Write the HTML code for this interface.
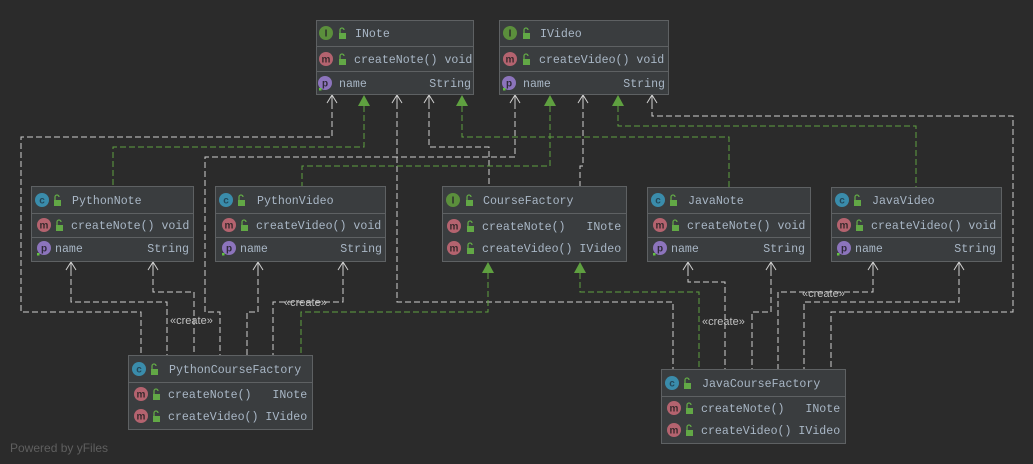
<!DOCTYPE html>
<html><head><meta charset="utf-8"><style>
html,body{margin:0;padding:0;background:#2b2b2b;}
svg{display:block;}
.t{font-family:"Liberation Mono",monospace;font-size:11.6px;fill:#a9b7c6;white-space:pre;}
.ic{font-family:"Liberation Sans",sans-serif;font-size:10px;font-weight:bold;text-anchor:middle;}
.lb{font-family:"Liberation Sans",sans-serif;font-size:11px;fill:#c0c0c0;}
.w{fill:none;stroke:#cfcfcf;stroke-width:1;stroke-dasharray:6,3;}
.g{fill:none;stroke:#5fa040;stroke-width:1;stroke-dasharray:6,3;}
</style></head><body>
<svg width="1033" height="464" viewBox="0 0 1033 464" xmlns="http://www.w3.org/2000/svg" xml:space="preserve">
<defs>
<path id="oa" d="M-5,8 L0,0 L5,8 M0,0 L0,8" fill="none" stroke="#cfcfcf" stroke-width="1"/>
<path id="ga" d="M-6,11 L0,0 L6,11 Z" fill="#5fa040"/>
<g id="lock"><rect x="-3" y="-1" width="7" height="6" fill="#62a846"/><path d="M-2,-1 V-4 A2,2 0 0 1 2,-4" fill="none" stroke="#62a846" stroke-width="1.3"/></g>
</defs>
<rect width="1033" height="464" fill="#2b2b2b"/>

<polyline class="w" points="332,103 332,137 21,137 21,312 141,312 141,355"/>
<polyline class="w" points="397,103 397,302 673,302 673,369"/>
<polyline class="w" points="429,103 429,147 489,147 489,186"/>
<polyline class="w" points="515,103 515,157 205,157 205,312 220,312 220,355"/>
<polyline class="w" points="583,103 583,166 580,166 580,186"/>
<polyline class="w" points="652,103 652,116 1013,116 1013,312 831,312 831,369"/>
<polyline class="w" points="71,270 71,302 167,302 167,355"/>
<polyline class="w" points="153,270 153,292 194,292 194,355"/>
<polyline class="w" points="258,270 258,312 247,312 247,355"/>
<polyline class="w" points="343,270 343,302 273,302 273,355"/>
<polyline class="w" points="688,270 688,282 725,282 725,369"/>
<polyline class="w" points="771,270 771,312 752,312 752,369"/>
<polyline class="w" points="873,270 873,292 778,292 778,369"/>
<polyline class="w" points="959,270 959,302 804,302 804,369"/>
<polyline class="g" points="364,106 364,147 113,147 113,186"/>
<polyline class="g" points="462,106 462,137 729,137 729,187"/>
<polyline class="g" points="550,106 550,166 302,166 302,186"/>
<polyline class="g" points="618,106 618,126 916,126 916,187"/>
<polyline class="g" points="488,273 488,312 301,312 301,355"/>
<polyline class="g" points="580,273 580,292 699,292 699,369"/>

<use href="#oa" x="332" y="95"/><use href="#oa" x="397" y="95"/><use href="#oa" x="429" y="95"/>
<use href="#oa" x="515" y="95"/><use href="#oa" x="583" y="95"/><use href="#oa" x="652" y="95"/>
<use href="#oa" x="71" y="262"/><use href="#oa" x="153" y="262"/><use href="#oa" x="258" y="262"/><use href="#oa" x="343" y="262"/>
<use href="#oa" x="688" y="262"/><use href="#oa" x="771" y="262"/><use href="#oa" x="873" y="262"/><use href="#oa" x="959" y="262"/>
<use href="#ga" x="364" y="95"/><use href="#ga" x="462" y="95"/><use href="#ga" x="550" y="95"/><use href="#ga" x="618" y="95"/>
<use href="#ga" x="488" y="262"/><use href="#ga" x="580" y="262"/>

<text class="lb" x="170" y="324">«create»</text>
<text class="lb" x="284" y="306">«create»</text>
<text class="lb" x="702" y="325">«create»</text>
<text class="lb" x="802" y="297">«create»</text>

<g>
<rect x="316.5" y="20.5" width="157" height="74" fill="#3a3d3f" stroke="#5e6163"/>
<line x1="317" y1="46.5" x2="473" y2="46.5" stroke="#5e6163"/><line x1="317" y1="71.5" x2="473" y2="71.5" stroke="#5e6163"/>
<circle cx="326" cy="33" r="7" fill="#5b8f3c"/><text class="ic" x="326" y="36.5" fill="#2b2b2b">I</text><use href="#lock" x="342" y="34"/>
<text class="t" x="355" y="37">INote</text>
<circle cx="326" cy="59" r="7" fill="#b4636f"/><text class="ic" x="326" y="62.5" fill="#3a2a2d">m</text><use href="#lock" x="342" y="60"/>
<text class="t" x="354" y="63">createNote() void</text>
<circle cx="325" cy="83" r="7" fill="#8c74bc"/><text class="ic" x="325" y="86.5" fill="#2f2a3a">p</text><rect x="319" y="88" width="2.5" height="2.5" fill="#62c040"/>
<text class="t" x="339" y="87">name</text><text class="t" x="471" y="87" text-anchor="end">String</text>
</g>
<g>
<rect x="499.5" y="20.5" width="169" height="74" fill="#3a3d3f" stroke="#5e6163"/>
<line x1="500" y1="46.5" x2="668" y2="46.5" stroke="#5e6163"/><line x1="500" y1="71.5" x2="668" y2="71.5" stroke="#5e6163"/>
<circle cx="510" cy="33" r="7" fill="#5b8f3c"/><text class="ic" x="510" y="36.5" fill="#2b2b2b">I</text><use href="#lock" x="526" y="34"/>
<text class="t" x="540" y="37">IVideo</text>
<circle cx="510" cy="59" r="7" fill="#b4636f"/><text class="ic" x="510" y="62.5" fill="#3a2a2d">m</text><use href="#lock" x="526" y="60"/>
<text class="t" x="539" y="63">createVideo() void</text>
<circle cx="509" cy="83" r="7" fill="#8c74bc"/><text class="ic" x="509" y="86.5" fill="#2f2a3a">p</text><rect x="503" y="88" width="2.5" height="2.5" fill="#62c040"/>
<text class="t" x="523" y="87">name</text><text class="t" x="665" y="87" text-anchor="end">String</text>
</g>

<g>
<rect x="31.5" y="186.5" width="162" height="75" fill="#3a3d3f" stroke="#5e6163"/>
<line x1="32" y1="213.5" x2="193" y2="213.5" stroke="#5e6163"/><line x1="32" y1="237.5" x2="193" y2="237.5" stroke="#5e6163"/>
<circle cx="42" cy="200" r="7" fill="#3a8cab"/><text class="ic" x="42" y="203.5" fill="#24485a">c</text><use href="#lock" x="57" y="201"/>
<text class="t" x="72" y="204">PythonNote</text>
<circle cx="44" cy="225" r="7" fill="#b4636f"/><text class="ic" x="44" y="228.5" fill="#3a2a2d">m</text><use href="#lock" x="59" y="226"/>
<text class="t" x="71" y="229">createNote() void</text>
<circle cx="44" cy="248" r="7" fill="#8c74bc"/><text class="ic" x="44" y="251.5" fill="#2f2a3a">p</text><rect x="37" y="253" width="2.5" height="2.5" fill="#62c040"/>
<text class="t" x="55" y="252">name</text><text class="t" x="189" y="252" text-anchor="end">String</text>
</g>
<g>
<rect x="215.5" y="186.5" width="170" height="75" fill="#3a3d3f" stroke="#5e6163"/>
<line x1="216" y1="213.5" x2="385" y2="213.5" stroke="#5e6163"/><line x1="216" y1="237.5" x2="385" y2="237.5" stroke="#5e6163"/>
<circle cx="226" cy="200" r="7" fill="#3a8cab"/><text class="ic" x="226" y="203.5" fill="#24485a">c</text><use href="#lock" x="241" y="201"/>
<text class="t" x="257" y="204">PythonVideo</text>
<circle cx="229" cy="225" r="7" fill="#b4636f"/><text class="ic" x="229" y="228.5" fill="#3a2a2d">m</text><use href="#lock" x="244" y="226"/>
<text class="t" x="256" y="229">createVideo() void</text>
<circle cx="229" cy="248" r="7" fill="#8c74bc"/><text class="ic" x="229" y="251.5" fill="#2f2a3a">p</text><rect x="222" y="253" width="2.5" height="2.5" fill="#62c040"/>
<text class="t" x="240" y="252">name</text><text class="t" x="382" y="252" text-anchor="end">String</text>
</g>
<g>
<rect x="442.5" y="186.5" width="184" height="75" fill="#3a3d3f" stroke="#5e6163"/>
<line x1="443" y1="213.5" x2="626" y2="213.5" stroke="#5e6163"/>
<circle cx="453" cy="200" r="7" fill="#5b8f3c"/><text class="ic" x="453" y="203.5" fill="#2b2b2b">I</text><use href="#lock" x="469" y="201"/>
<text class="t" x="483" y="204">CourseFactory</text>
<circle cx="454" cy="226" r="7" fill="#b4636f"/><text class="ic" x="454" y="229.5" fill="#3a2a2d">m</text><use href="#lock" x="470" y="227"/>
<text class="t" x="482" y="230">createNote()   INote</text>
<circle cx="454" cy="248" r="7" fill="#b4636f"/><text class="ic" x="454" y="251.5" fill="#3a2a2d">m</text><use href="#lock" x="470" y="249"/>
<text class="t" x="482" y="252">createVideo() IVideo</text>
</g>
<g>
<rect x="647.5" y="187.5" width="163" height="74" fill="#3a3d3f" stroke="#5e6163"/>
<line x1="648" y1="213.5" x2="810" y2="213.5" stroke="#5e6163"/><line x1="648" y1="237.5" x2="810" y2="237.5" stroke="#5e6163"/>
<circle cx="658" cy="200" r="7" fill="#3a8cab"/><text class="ic" x="658" y="203.5" fill="#24485a">c</text><use href="#lock" x="673" y="201"/>
<text class="t" x="688" y="204">JavaNote</text>
<circle cx="660" cy="225" r="7" fill="#b4636f"/><text class="ic" x="660" y="228.5" fill="#3a2a2d">m</text><use href="#lock" x="675" y="226"/>
<text class="t" x="687" y="229">createNote() void</text>
<circle cx="660" cy="248" r="7" fill="#8c74bc"/><text class="ic" x="660" y="251.5" fill="#2f2a3a">p</text><rect x="653" y="253" width="2.5" height="2.5" fill="#62c040"/>
<text class="t" x="671" y="252">name</text><text class="t" x="805" y="252" text-anchor="end">String</text>
</g>
<g>
<rect x="831.5" y="187.5" width="170" height="74" fill="#3a3d3f" stroke="#5e6163"/>
<line x1="832" y1="213.5" x2="1001" y2="213.5" stroke="#5e6163"/><line x1="832" y1="237.5" x2="1001" y2="237.5" stroke="#5e6163"/>
<circle cx="842" cy="200" r="7" fill="#3a8cab"/><text class="ic" x="842" y="203.5" fill="#24485a">c</text><use href="#lock" x="857" y="201"/>
<text class="t" x="872" y="204">JavaVideo</text>
<circle cx="844" cy="225" r="7" fill="#b4636f"/><text class="ic" x="844" y="228.5" fill="#3a2a2d">m</text><use href="#lock" x="859" y="226"/>
<text class="t" x="871" y="229">createVideo() void</text>
<circle cx="844" cy="248" r="7" fill="#8c74bc"/><text class="ic" x="844" y="251.5" fill="#2f2a3a">p</text><rect x="837" y="253" width="2.5" height="2.5" fill="#62c040"/>
<text class="t" x="855" y="252">name</text><text class="t" x="996" y="252" text-anchor="end">String</text>
</g>
<g>
<rect x="128.5" y="355.5" width="184" height="74" fill="#3a3d3f" stroke="#5e6163"/>
<line x1="129" y1="382.5" x2="312" y2="382.5" stroke="#5e6163"/>
<circle cx="139" cy="369" r="7" fill="#3a8cab"/><text class="ic" x="139" y="372.5" fill="#24485a">c</text><use href="#lock" x="154" y="370"/>
<text class="t" x="169" y="373">PythonCourseFactory</text>
<circle cx="141" cy="394" r="7" fill="#b4636f"/><text class="ic" x="141" y="397.5" fill="#3a2a2d">m</text><use href="#lock" x="156" y="395"/>
<text class="t" x="168" y="398">createNote()   INote</text>
<circle cx="141" cy="416" r="7" fill="#b4636f"/><text class="ic" x="141" y="419.5" fill="#3a2a2d">m</text><use href="#lock" x="156" y="417"/>
<text class="t" x="168" y="420">createVideo() IVideo</text>
</g>
<g>
<rect x="661.5" y="369.5" width="184" height="74" fill="#3a3d3f" stroke="#5e6163"/>
<line x1="662" y1="396.5" x2="845" y2="396.5" stroke="#5e6163"/>
<circle cx="672" cy="383" r="7" fill="#3a8cab"/><text class="ic" x="672" y="386.5" fill="#24485a">c</text><use href="#lock" x="687" y="384"/>
<text class="t" x="702" y="387">JavaCourseFactory</text>
<circle cx="674" cy="408" r="7" fill="#b4636f"/><text class="ic" x="674" y="411.5" fill="#3a2a2d">m</text><use href="#lock" x="689" y="409"/>
<text class="t" x="701" y="412">createNote()   INote</text>
<circle cx="674" cy="430" r="7" fill="#b4636f"/><text class="ic" x="674" y="433.5" fill="#3a2a2d">m</text><use href="#lock" x="689" y="431"/>
<text class="t" x="701" y="434">createVideo() IVideo</text>
</g>

<text x="10" y="452" font-family="Liberation Sans, sans-serif" font-size="12" fill="#5f5f5f">Powered by yFiles</text>
</svg>
</body></html>
